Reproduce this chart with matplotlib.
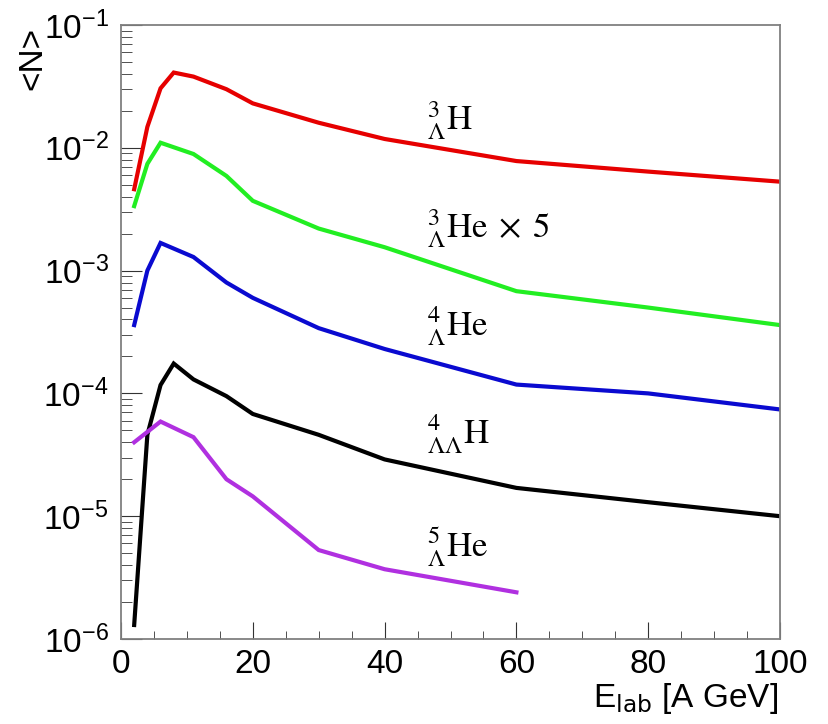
import matplotlib
matplotlib.use("Agg")
import matplotlib.pyplot as plt
from matplotlib.ticker import LogLocator, MultipleLocator

plt.rcParams['font.family'] = ['Liberation Sans', 'DejaVu Sans']

# energies [A GeV] and yields
e_h3l = [2, 4, 6, 8, 11, 16, 20, 30, 40, 60, 80, 100]
n_h3l = [4.6e-3, 1.48e-2, 3.05e-2, 4.1e-2, 3.8e-2, 3.0e-2, 2.3e-2, 1.6e-2, 1.18e-2, 7.8e-3, 6.4e-3, 5.3e-3]

e_he3l = [2, 4, 6, 11, 16, 20, 30, 40, 60, 80, 100]
n_he3l = [3.35e-3, 7.4e-3, 1.1e-2, 8.9e-3, 5.9e-3, 3.7e-3, 2.2e-3, 1.55e-3, 6.8e-4, 5.0e-4, 3.6e-4]

e_he4l = [2, 4, 6, 11, 16, 20, 30, 40, 60, 80, 100]
n_he4l = [3.6e-4, 1.0e-3, 1.68e-3, 1.29e-3, 8.0e-4, 6.0e-4, 3.4e-4, 2.3e-4, 1.18e-4, 1.0e-4, 7.4e-5]

e_h4ll = [2, 4, 6, 8, 11, 16, 20, 30, 40, 60, 80, 100]
n_h4ll = [1.3e-6, 4.6e-5, 1.17e-4, 1.75e-4, 1.3e-4, 9.5e-5, 6.8e-5, 4.6e-5, 2.9e-5, 1.7e-5, 1.3e-5, 1.0e-5]

e_he5l = [2, 6, 11, 16, 20, 30, 40, 60]
n_he5l = [4.0e-5, 5.9e-5, 4.4e-5, 2.0e-5, 1.45e-5, 5.3e-6, 3.7e-6, 2.4e-6]

labels = [r'${}^{3}_{\Lambda}\mathrm{H}$',
          r'${}^{3}_{\Lambda}\mathrm{He}\;\times\;5$',
          r'${}^{4}_{\Lambda}\mathrm{He}$',
          r'${}^{4}_{\Lambda\Lambda}\mathrm{H}$',
          r'${}^{5}_{\Lambda}\mathrm{He}$']
label_y = [1.66e-2, 2.2e-3, 3.5e-4, 4.6e-5, 5.6e-6]
colors = ['#e60000', '#22ee22', '#0a0ad0', '#000000', '#b030e0']

fig = plt.figure(figsize=(8.29, 7.24), dpi=100)
ax = fig.add_axes([121/829, 1-639/724, (780-121)/829, (639-25)/724])

series = [(e_h3l, n_h3l), (e_he3l, n_he3l), (e_he4l, n_he4l), (e_h4ll, n_h4ll), (e_he5l, n_he5l)]
for (e, n), c in zip(series, colors):
    ax.plot(e, n, color=c, lw=3.0, solid_joinstyle='miter')

for lab, y in zip(labels, label_y):
    ax.text(46.5, y, lab, fontsize=25, math_fontfamily='stix', ha='left', va='center')

ax.set_yscale('log')
ax.set_xlim(0, 100)
ax.set_ylim(1e-6, 1e-1)
ax.xaxis.set_major_locator(MultipleLocator(20))
ax.xaxis.set_minor_locator(MultipleLocator(5))
ax.yaxis.set_major_locator(LogLocator(base=10, numticks=10))
ax.yaxis.set_minor_locator(LogLocator(base=10, subs=range(2, 10), numticks=10))

for s in ax.spines.values():
    s.set_color('#808080')
    s.set_linewidth(1.3)
ax.tick_params(axis='both', which='both', direction='in', top=False, right=False,
               color='#333333', labelsize=24)
ax.tick_params(axis='x', which='major', length=12.5, pad=7)
ax.tick_params(axis='x', which='minor', length=6)
ax.tick_params(axis='y', which='major', length=15, pad=9)
ax.tick_params(axis='y', which='minor', length=8)

fig.text(33/829, 1-27/724, '<N>', rotation=90, ha='center', va='top', fontsize=24)
fig.text(778/829, 1-681/724, r'E$_{\mathrm{lab}}$ [A GeV]', ha='right', va='top', fontsize=24)

fig.savefig('out.png', dpi=100)
